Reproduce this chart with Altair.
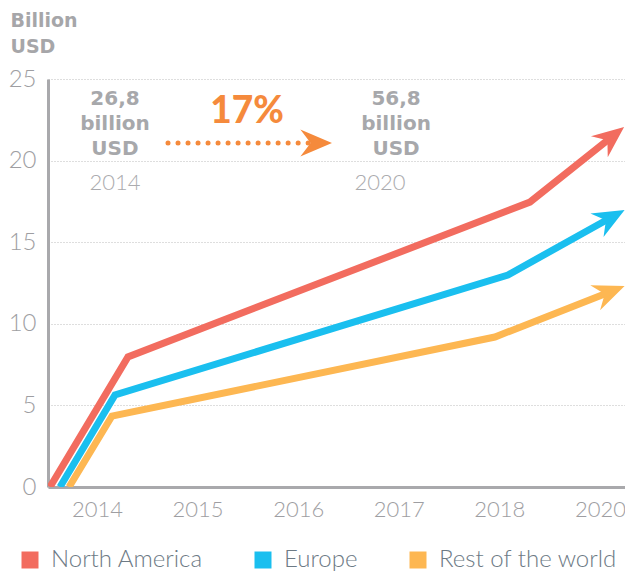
import json, math
import altair as alt
import pandas as pd

# ---------------- data ----------------
series = ["North America", "Europe", "Rest of the world"]
colors = ["#F26C5F", "#1ABFEF", "#FDB752"]

tick_pos = [0, 1, 2, 3, 4, 5]
tick_labels = ["2014", "2015", "2016", "2017", "2018", "2020"]

na_x = [-0.467, 0.308, 4.304, 5.24]
na_y = [0.0, 7.97, 17.46, 22.06]
eu_x = [-0.368, 0.179, 4.085, 5.245]
eu_y = [0.0, 5.64, 12.99, 16.98]
rw_x = [-0.278, 0.149, 3.956, 5.245]
rw_y = [0.0, 4.35, 9.19, 12.31]

y_ticks = [0, 5, 10, 15, 20, 25]

# annotations
ann_val_text = ["26,8\nbillion\nUSD", "56,8\nbillion\nUSD"]
ann_val_x = [0.179, 2.973]
ann_val_y = [23.41, 23.41]
ann_year_text = ["2014", "2020"]
ann_year_x = [0.179, 2.813]
ann_year_y = [18.2, 18.2]
growth_text = ["17%"]
growth_x = [1.491]
growth_y = [22.30]
growth_arrow_x = [0.706, 2.117]
growth_arrow_tip = [2.336]
growth_arrow_y = [21.08]

# ---------------- layout constants ----------------
X_DOMAIN = [-0.487, 5.249]
Y_DOMAIN = [0, 25]
W, H = 577, 408
ppx = W / (X_DOMAIN[1] - X_DOMAIN[0])
ppy = H / (Y_DOMAIN[1] - Y_DOMAIN[0])
BACK = 16  # px the line stops before the arrow tip

ARROW = "M0,0 L-2,-0.85 L-1.35,0 L-2,0.85 Z"
ARROW_SIZE = 1000

line_rows, tip_rows = [], []
for name, xs, ys in [(series[0], na_x, na_y), (series[1], eu_x, eu_y), (series[2], rw_x, rw_y)]:
    dxp = (xs[-1] - xs[-2]) * ppx
    dyp = (ys[-1] - ys[-2]) * ppy
    L = math.hypot(dxp, dyp)
    xe = xs[-1] - BACK * dxp / L / ppx
    ye = ys[-1] - BACK * dyp / L / ppy
    pts = list(zip(xs[:-1], ys[:-1])) + [(xe, ye)]
    for k, (x, y) in enumerate(pts):
        line_rows.append({"series": name, "order": k, "x": x, "y": y})
    ang = (360 - math.degrees(math.atan2(dyp, dxp))) % 360
    tip_rows.append({"series": name, "x": xs[-1], "y": ys[-1], "angle": ang})

lines_df = pd.DataFrame(line_rows)
tips_df = pd.DataFrame(tip_rows)

xscale = alt.Scale(domain=X_DOMAIN, nice=False, zero=False)
yscale = alt.Scale(domain=Y_DOMAIN, nice=False)
cscale = alt.Scale(domain=series, range=colors)

label_expr = json.dumps(tick_labels) + "[round(datum.value)]"

x_axis = alt.Axis(values=tick_pos, labelExpr=label_expr, grid=False, ticks=False,
                  domainColor="#A9A9AC", domainWidth=3, labelFont="Lato",
                  labelFontWeight=300, labelFontSize=22, labelColor="#9E9EA2",
                  labelPadding=12, title=None)
y_axis = alt.Axis(values=y_ticks, grid=True, gridDash=[1, 2], gridColor="#BDBDBD",
                  ticks=False, domainColor="#A9A9AC", domainWidth=3,
                  labelFont="Lato", labelFontWeight=300, labelFontSize=24,
                  labelColor="#9E9EA2", labelPadding=12,
                  title=["Billion", "USD"], titleAngle=0, titleAlign="left",
                  titleBaseline="alphabetic", titleX=-38, titleY=-53,
                  titleFont="DejaVu Sans", titleFontWeight="bold", titleFontSize=19,
                  titleColor="#A6A6A9", titleLineHeight=26)

legend = alt.Legend(title=None, orient="none", legendX=-30, legendY=469,
                    direction="horizontal", columns=3,
                    symbolType="square", symbolSize=289,
                    symbolStrokeWidth=0, symbolOpacity=1, labelFont="Lato",
                    labelFontWeight=300, labelFontSize=24, labelLimit=400,
                    labelColor="#6D7A85", columnPadding=48,
                    labelOffset=9)

tips = alt.Chart(tips_df).mark_point(shape=ARROW, filled=True, opacity=1, size=ARROW_SIZE,
                                     strokeWidth=0).encode(
    x=alt.X("x:Q", scale=xscale, axis=x_axis),
    y=alt.Y("y:Q", scale=yscale, axis=y_axis),
    color=alt.Color("series:N", scale=cscale, legend=legend),
    angle=alt.Angle("angle:Q", scale=None),
)

lines = alt.Chart(lines_df).mark_line(strokeWidth=7, clip=True).encode(
    x=alt.X("x:Q", scale=xscale),
    y=alt.Y("y:Q", scale=yscale),
    color=alt.Color("series:N", scale=cscale),
    order="order:Q",
    detail="series:N",
)

val_df = pd.DataFrame({"t": ann_val_text, "x": ann_val_x, "y": ann_val_y})
vals = alt.Chart(val_df).mark_text(font="DejaVu Sans", fontWeight="bold", fontSize=20,
                                    color="#A7A8AB", lineBreak="\n", lineHeight=25,
                                    align="center", baseline="alphabetic").encode(
    x=alt.X("x:Q", scale=xscale), y=alt.Y("y:Q", scale=yscale), text="t:N")

yr_df = pd.DataFrame({"t": ann_year_text, "x": ann_year_x, "y": ann_year_y})
yrs = alt.Chart(yr_df).mark_text(font="Lato", fontWeight=300, fontSize=22,
                                  color="#ABABAE", align="center",
                                  baseline="alphabetic").encode(
    x=alt.X("x:Q", scale=xscale), y=alt.Y("y:Q", scale=yscale), text="t:N")

gr_df = pd.DataFrame({"t": growth_text, "x": growth_x, "y": growth_y})
growth = alt.Chart(gr_df).mark_text(font="Lato", fontWeight=900, fontSize=37,
                                     color="#F58A3C", align="center",
                                     baseline="alphabetic").encode(
    x=alt.X("x:Q", scale=xscale), y=alt.Y("y:Q", scale=yscale), text="t:N")

ga_df = pd.DataFrame({"x": [growth_arrow_x[0]], "x2": [growth_arrow_x[1]],
                      "y": growth_arrow_y})
dots = alt.Chart(ga_df).mark_rule(color="#F58A3C", strokeWidth=5, strokeCap="round",
                                   strokeDash=[0.01, 10]).encode(
    x=alt.X("x:Q", scale=xscale), x2="x2:Q", y=alt.Y("y:Q", scale=yscale))

gh_df = pd.DataFrame({"x": growth_arrow_tip, "y": growth_arrow_y})
ghead = alt.Chart(gh_df).mark_point(shape=ARROW, filled=True, opacity=1, size=ARROW_SIZE,
                                     strokeWidth=0, color="#F58A3C").encode(
    x=alt.X("x:Q", scale=xscale), y=alt.Y("y:Q", scale=yscale))

chart = alt.layer(tips, lines, dots, ghead, vals, yrs, growth).properties(
    width=W, height=H,
    autosize=alt.AutoSizeParams(type="none"),
    padding={"left": 40, "top": 71, "right": 0, "bottom": 84},
).configure_view(stroke=None)

chart.save("out.html", embed_options={"renderer": "svg", "actions": False})
